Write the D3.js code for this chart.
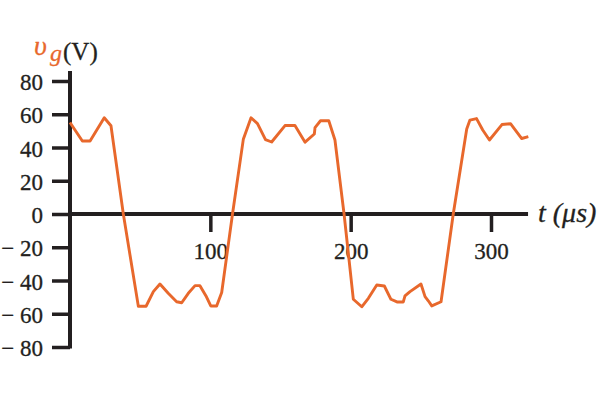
<!DOCTYPE html>
<html>
<head>
<meta charset="utf-8">
<script src="https://cdn.jsdelivr.net/npm/d3@7"></script>
<style>
  html, body { margin: 0; padding: 0; background: #fff; }
  svg { display: block; }
</style>
</head>
<body>
<svg id="chart" width="600" height="400"></svg>
<script>
// ---- data ----
const timeUs = [0, 8.8, 14.3, 24.4, 29.2, 38.0, 48.7, 54.2, 59.4, 64.1, 70.0, 76.0, 79.6, 84.3, 89.1, 92.6,
  96.9, 100.3, 104.5, 108.1, 115.8, 123.5, 129.0, 133.6, 139.3, 143.7, 153.2, 160.3, 167.5, 174.1, 174.6,
  178.5, 184.4, 188.8, 195.3, 201.9, 207.9, 212.6, 218.6, 224.0, 228.7, 233.0, 237.5, 238.7, 242.3, 250.1,
  253.0, 255.3, 257.8, 264.4, 273.1, 282.7, 285.0, 289.7, 294.1, 298.9, 307.8, 313.9, 321.9, 326.6];
const voltageV = [55, 43.9, 43.9, 57.9, 53.1, 0, -55.5, -55.5, -46.7, -42.1, -47.7, -52.8, -53.4, -47.7, -43.1, -43.1,
  -49.3, -55.3, -55.3, -47.2, 0, 44.9, 57.9, 54.4, 44.7, 43.3, 53.2, 53.2, 43.2, 48.1, 52.0,
  56.1, 56.1, 44.5, 0, -51.3, -55.8, -50.7, -42.7, -43.3, -51.3, -52.9, -52.9, -49.3, -46.7, -42.1,
  -49.7, -52.2, -55.3, -52.8, 0, 51.1, 56.5, 57.4, 50.5, 44.5, 53.8, 54.3, 45.4, 46.5];
const yTickValues = [-80, -60, -40, -20, 0, 20, 40, 60, 80];
const xTickValues = [100, 200, 300];
const xAxisEnd = 326.4;
const yLabelMain = "υ";
const yLabelSub = "g";
const yLabelUnit = "(V)";
const xLabel = "t (μs)";

// ---- drawing ----
const FONT = "'Liberation Serif'";
const svg = d3.select("#chart");
const ink = "#231f20";
const orange = "#e8682c";

const x = d3.scaleLinear().domain([0, 300]).range([70, 491]);
const y = d3.scaleLinear().domain([-80, 80]).range([347, 81]);

function styled(sel, color, size, italic) {
  return sel.attr("fill", color).attr("stroke", color).attr("stroke-width", 0.3)
    .style("font-family", FONT).style("font-size", size + "px")
    .style("font-style", italic ? "italic" : "normal");
}

// y axis ticks + labels
const yAxis = d3.axisLeft(y).tickValues(yTickValues).tickSize(18).tickPadding(9)
  .tickFormat(d => d < 0 ? "\u2212 " + Math.abs(d) : String(d));
const gy = svg.append("g").attr("transform", `translate(${x(0)},0)`).call(yAxis);
gy.attr("font-family", FONT).attr("font-size", 23);
gy.select(".domain").remove();
gy.selectAll(".tick line").attr("stroke", ink).attr("stroke-width", 3.5);
styled(gy.selectAll(".tick text"), ink, 23, false)
  .attr("dy", null).attr("y", 8.5).attr("x", -27);

// x axis ticks + labels
const xAxis = d3.axisBottom(x).tickValues(xTickValues).tickSize(18).tickFormat(d => String(d));
const gx = svg.append("g").attr("transform", `translate(0,${y(0)})`).call(xAxis);
gx.attr("font-family", FONT).attr("font-size", 23);
gx.select(".domain").remove();
gx.selectAll(".tick line").attr("stroke", ink).attr("stroke-width", 3.5);
styled(gx.selectAll(".tick text"), ink, 23, false)
  .attr("dy", null).attr("y", 44.5);

// axis lines
svg.append("line")
  .attr("x1", x(0)).attr("x2", x(0))
  .attr("y1", y(80) - 10).attr("y2", y(-80) + 1.5)
  .attr("stroke", ink).attr("stroke-width", 4);
svg.append("line")
  .attr("x1", x(0)).attr("x2", x(xAxisEnd))
  .attr("y1", y(0)).attr("y2", y(0))
  .attr("stroke", ink).attr("stroke-width", 4);

// waveform
const pts = timeUs.map((t, i) => [t, voltageV[i]]);
svg.append("path")
  .datum(pts)
  .attr("fill", "none")
  .attr("stroke", orange)
  .attr("stroke-width", 2.9)
  .attr("stroke-linejoin", "round")
  .attr("d", d3.line().x(d => x(d[0])).y(d => y(d[1])));

// y label
styled(svg.append("text"), orange, 28, true).attr("x", 34).attr("y", 55).text(yLabelMain);
styled(svg.append("text"), orange, 24, true).attr("x", 50).attr("y", 61).text(yLabelSub);
styled(svg.append("text"), ink, 25, false).attr("x", 63).attr("y", 59.5).text(yLabelUnit);

// x label
styled(svg.append("text"), ink, 28, true).attr("x", 538).attr("y", 222).text(xLabel);
</script>
</body>
</html>
